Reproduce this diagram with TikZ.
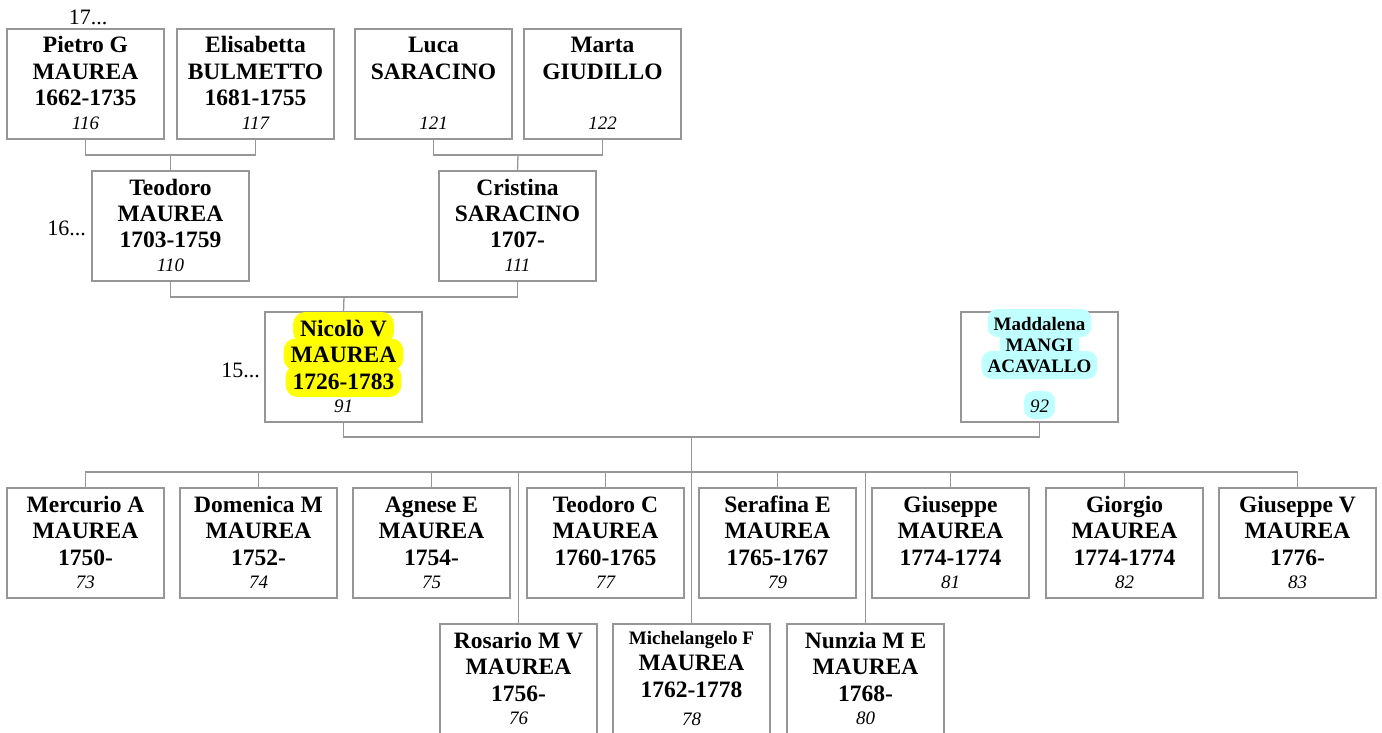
\documentclass[tikz,border=0pt]{standalone}
\usepackage{fontspec}
\setmainfont{Liberation Serif}
\usetikzlibrary{calc}
\definecolor{ln}{RGB}{150,150,150}
\definecolor{hlY}{RGB}{255,255,0}
\definecolor{hlC}{RGB}{192,255,255}
\newcommand\Ln[1]{{\fontsize{23.5pt}{26.5pt}\selectfont\bfseries #1\par}}
\newcommand\Sm[2][21]{{\fontsize{19pt}{#1pt}\selectfont\bfseries #2\par}}
\newcommand\Num[2][23.5]{{\fontsize{19pt}{#1pt}\selectfont\itshape #2\par}}
\newcommand\card[1]{\parbox[t][110pt][t]{157pt}{\centering\lineskiplimit=-100pt\relax #1}}
\newcommand\hlbig[2]{\tikz[baseline=(h.base)]\node[fill=#1,draw=none,rounded corners=12pt,inner xsep=7pt,inner ysep=3pt,text height=21pt,text depth=5pt,outer sep=0pt,anchor=base,minimum width=0pt,minimum height=0pt] (h) {#2};}
\newcommand\hlsm[2]{\tikz[baseline=(h.base)]\node[fill=#1,draw=none,rounded corners=10pt,inner xsep=6pt,inner ysep=3pt,text height=18pt,text depth=4pt,outer sep=0pt,anchor=base,minimum width=0pt,minimum height=0pt] (h) {#2};}
\tikzset{
  person/.style={draw=ln,line width=1.3pt,inner sep=0pt,outer sep=0pt,anchor=north west},
  conn/.style={draw=ln,line width=1.3pt},
  lvl/.style={inner sep=0pt,font=\fontsize{22pt}{24pt}\selectfont}
}
\begin{document}
\begin{tikzpicture}[x=1pt,y=-1pt]
\useasboundingbox (0,0) rectangle (1382,733);
% level labels
\node[lvl,anchor=base] (l17) at (88,25) {17...};
\node[lvl,anchor=base east] (l16) at (86,235) {16...};
\node[lvl,anchor=base east] (l15) at (260,377) {15...};
% generation 17
\node[person] (p116) at (7,29) {\card{\Ln{\rule{0pt}{24pt}Pietro G}\Ln{MAUREA}\Ln{1662-1735}\Num{116}}};
\node[person] (p117) at (177,29) {\card{\Ln{\rule{0pt}{24pt}Elisabetta}\Ln{BULMETTO}\Ln{1681-1755}\Num{117}}};
\node[person] (p121) at (355,29) {\card{\Ln{\rule{0pt}{24pt}Luca}\Ln{SARACINO}\Ln{\mbox{}}\Num{121}}};
\node[person] (p122) at (524,29) {\card{\Ln{\rule{0pt}{24pt}Marta}\Ln{GIUDILLO}\Ln{\mbox{}}\Num{122}}};
% generation 16
\node[person] (p110) at (92,171) {\card{\Ln{\rule{0pt}{24pt}Teodoro}\Ln{MAUREA}\Ln{1703-1759}\Num{110}}};
\node[person] (p111) at (439,171) {\card{\Ln{\rule{0pt}{24pt}Cristina}\Ln{SARACINO}\Ln{1707-}\Num{111}}};
% generation 15
\node[person] (p91) at (265,312) {\card{\Ln{\rule{0pt}{24pt}\smash{\hlbig{hlY}{Nicolò V}}}\Ln{\smash{\hlbig{hlY}{MAUREA}}}\Ln{\smash{\hlbig{hlY}{1726-1783}}}\Num{91}}};
\node[person] (p92) at (961,312) {\card{\Sm{\rule{0pt}{18pt}\smash{\hlsm{hlC}{Maddalena}}}\Sm{\smash{\hlsm{hlC}{MANGI}}}\Sm{\smash{\hlsm{hlC}{ACAVALLO}}}\Sm{\mbox{}}\Num[19]{\smash{\hlsm{hlC}{92}}}}};
% children
\node[person] (c73) at (7,488) {\card{\Ln{\rule{0pt}{24pt}Mercurio A}\Ln{MAUREA}\Ln{1750-}\Num{73}}};
\node[person] (c74) at (180,488) {\card{\Ln{\rule{0pt}{24pt}Domenica M}\Ln{MAUREA}\Ln{1752-}\Num{74}}};
\node[person] (c75) at (353,488) {\card{\Ln{\rule{0pt}{24pt}Agnese E}\Ln{MAUREA}\Ln{1754-}\Num{75}}};
\node[person] (c77) at (527,488) {\card{\Ln{\rule{0pt}{24pt}Teodoro C}\Ln{MAUREA}\Ln{1760-1765}\Num{77}}};
\node[person] (c79) at (699,488) {\card{\Ln{\rule{0pt}{24pt}Serafina E}\Ln{MAUREA}\Ln{1765-1767}\Num{79}}};
\node[person] (c81) at (872,488) {\card{\Ln{\rule{0pt}{24pt}Giuseppe}\Ln{MAUREA}\Ln{1774-1774}\Num{81}}};
\node[person] (c82) at (1046,488) {\card{\Ln{\rule{0pt}{24pt}Giorgio}\Ln{MAUREA}\Ln{1774-1774}\Num{82}}};
\node[person] (c83) at (1219,488) {\card{\Ln{\rule{0pt}{24pt}Giuseppe V}\Ln{MAUREA}\Ln{1776-}\Num{83}}};
\node[person] (c76) at (440,624) {\card{\Ln{\rule{0pt}{24pt}Rosario M V}\Ln{MAUREA}\Ln{1756-}\Num{76}}};
\node[person] (c78) at (613,624) {\card{\Sm{\rule{0pt}{20pt}Michelangelo F}\Ln{MAUREA}\Ln{1762-1778}\Num[28]{78}}};
\node[person] (c80) at (787,624) {\card{\Ln{\rule{0pt}{24pt}Nunzia M E}\Ln{MAUREA}\Ln{1768-}\Num{80}}};
% joins
\coordinate (j1) at ($(p116.south)!0.5!(p117.south)+(0,16)$);
\coordinate (j2) at ($(p121.south)!0.5!(p122.south)+(0,16)$);
\coordinate (j3) at ($(p110.south)!0.5!(p111.south)+(0,16)$);
\coordinate (j4) at ($(p91.south)!0.5!(p92.south)+(0,15)$);
\coordinate (bus) at ($(j4)+(0,35)$);
\draw[conn] (p116.south) |- (j1) -| (p117.south);
\draw[conn] (j1) -- (p110.north);
\draw[conn] (p121.south) |- (j2) -| (p122.south);
\draw[conn] (j2) -- (p111.north);
\draw[conn] (p110.south) |- (j3) -| (p111.south);
\draw[conn] (j3) -- (p91.north);
\draw[conn] (p91.south) |- (j4) -| (p92.south);
\draw[conn] (j4) -- (bus);
\foreach \c in {c73,c74,c75,c77,c79,c81,c82,c83,c76,c78,c80}
  \draw[conn] (bus) -| (\c.north);
\end{tikzpicture}
\end{document}
